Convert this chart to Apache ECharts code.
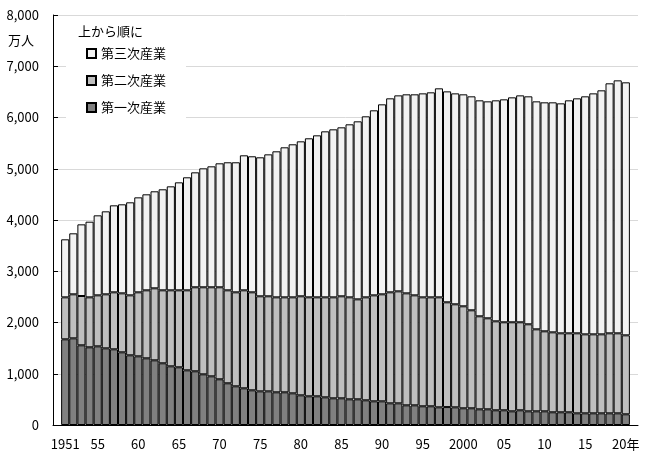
<!DOCTYPE html>
<html>
<head>
<meta charset="utf-8">
<script src="https://cdn.jsdelivr.net/npm/echarts@6/dist/echarts.min.js"></script>
<style>
html,body{margin:0;padding:0;background:#fff;}
#c{width:662px;height:466px;}
</style>
</head>
<body>
<div id="c"></div>
<script>
var years = [1951,1952,1953,1954,1955,1956,1957,1958,1959,1960,1961,1962,1963,1964,1965,1966,1967,1968,1969,1970,1971,1972,1973,1974,1975,1976,1977,1978,1979,1980,1981,1982,1983,1984,1985,1986,1987,1988,1989,1990,1991,1992,1993,1994,1995,1996,1997,1998,1999,2000,2001,2002,2003,2004,2005,2006,2007,2008,2009,2010,2011,2012,2013,2014,2015,2016,2017,2018,2019,2020];

var primary = [1672,1691,1555,1516,1535,1496,1477,1418,1360,1340,1301,1262,1204,1145,1126,1067,1048,989,950,892,814,755,716,677,657,657,638,638,618,579,560,560,540,521,521,501,501,482,462,462,423,423,384,384,365,365,345,350,345,326,326,306,306,287,287,267,287,267,267,267,248,248,248,228,228,228,228,228,228,209];

var secondary = [819,859,962,975,995,1054,1112,1151,1170,1249,1327,1405,1424,1483,1502,1561,1639,1698,1737,1795,1814,1834,1912,1912,1854,1854,1853,1853,1873,1932,1931,1931,1951,1970,1990,1990,1951,2009,2068,2088,2166,2185,2185,2146,2126,2126,2146,2044,2010,1990,1912,1815,1776,1736,1717,1737,1717,1698,1600,1561,1560,1541,1541,1561,1541,1541,1541,1561,1561,1541];

var tertiary = [1132,1190,1398,1476,1561,1619,1697,1737,1815,1853,1873,1893,1971,2029,2107,2205,2243,2321,2360,2419,2498,2537,2634,2654,2712,2770,2849,2927,2986,3024,3103,3161,3239,3278,3297,3376,3473,3532,3610,3707,3785,3824,3883,3922,3980,4000,4078,4116,4116,4136,4175,4214,4233,4312,4350,4389,4428,4448,4448,4468,4488,4487,4546,4585,4644,4702,4761,4878,4936,4936];

var seriesNames = ['第一次産業','第二次産業','第三次産業'];
var legendOrder = ['第三次産業','第二次産業','第一次産業'];
var colors = ['#808080','#bfbfbf','#f2f2f2'];
var yTicks = [0,1000,2000,3000,4000,5000,6000,7000,8000];

// padded category axis (blank slot at both ends)
var cats = [''].concat(years.map(String)).concat(['']);
function pad(arr){ return [null].concat(arr).concat([null]); }

var font = '"Noto Sans CJK JP", "Noto Sans", sans-serif';

function xLabel(v){
  if (v === '') return '';
  var y = parseInt(v,10);
  if (y === 1951) return '1951';
  if (y === 2000) return '2000';
  if (y === 2020) return '20年';
  if (y % 5 === 0) return String(y).slice(2);
  return '';
}

var chart = echarts.init(document.getElementById('c'), null, {renderer:'canvas'});
var dataSets = [primary, secondary, tertiary];
var series = seriesNames.map(function(n,i){
  return {
    name: n, type: 'bar', stack: 'total',
    data: pad(dataSets[i]),
    barCategoryGap: '0%',
    itemStyle: {color: colors[i], borderColor: '#000', borderWidth: 1},
    emphasis: {disabled: true},
    animation: false
  };
});

chart.setOption({
  animation: false,
  backgroundColor: '#fff',
  textStyle: {fontFamily: font},
  grid: {left: 53, right: 24, top: 15, bottom: 41, containLabel: false},
  legend: {
    data: legendOrder,
    orient: 'vertical',
    left: 66, top: 18,
    padding: [27, 20, 8, 20],
    backgroundColor: '#fff',
    itemWidth: 9, itemHeight: 9,
    itemGap: 10,
    icon: 'rect',
    textStyle: {fontFamily: font, fontSize: 13, color: '#000', lineHeight: 17},
    selectedMode: false
  },
  graphic: [
    {type:'text', left: 78, top: 25, z: 100, style:{text:'上から順に', font: '13px ' + font, fill:'#000'}},
    {type:'text', left: 8, top: 34, z: 100, style:{text:'万人', font: '13px ' + font, fill:'#000'}}
  ],
  xAxis: {
    type: 'category',
    data: cats,
    boundaryGap: true,
    axisLine: {lineStyle: {color: '#000', width: 1}},
    axisTick: {show: false},
    axisLabel: {interval: 0, formatter: xLabel, color: '#000', fontSize: 13, margin: 13, fontFamily: font}
  },
  yAxis: {
    type: 'value',
    min: yTicks[0], max: yTicks[yTicks.length-1], interval: 1000,
    axisLine: {show: true, lineStyle: {color: '#000', width: 1}},
    axisTick: {show: true, inside: true, length: 5, lineStyle: {color: '#000'}},
    splitLine: {show: true, lineStyle: {color: '#d9d9d9', width: 1}},
    axisLabel: {
      color: '#000', fontSize: 13, margin: 14, fontFamily: font,
      formatter: function(v){ return v.toLocaleString('en-US'); }
    }
  },
  series: series
});
</script>
</body>
</html>
